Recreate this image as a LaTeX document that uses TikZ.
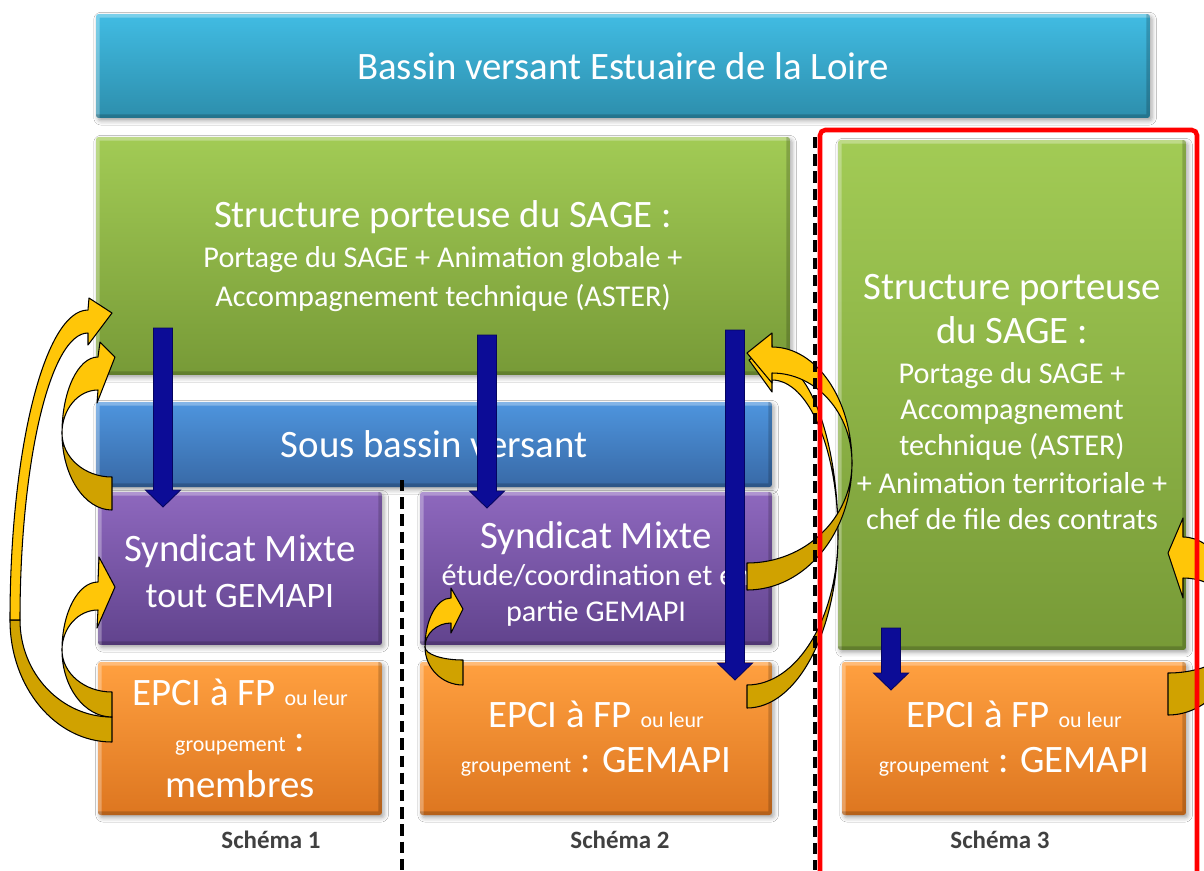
\documentclass[tikz,border=0pt]{standalone}
\usepackage{fontspec}
\setmainfont{Carlito}
\usetikzlibrary{calc,shadows.blur}

\definecolor{cyanT}{HTML}{41BCE3}
\definecolor{cyanB}{HTML}{2D8EAC}
\definecolor{greenT}{HTML}{A2CB55}
\definecolor{greenB}{HTML}{779A37}
\definecolor{blueT}{HTML}{4E95DE}
\definecolor{blueB}{HTML}{3869A6}
\definecolor{purpT}{HTML}{8E68BE}
\definecolor{purpB}{HTML}{61438D}
\definecolor{orT}{HTML}{FFA040}
\definecolor{orB}{HTML}{DD7620}
\definecolor{yfrontc}{HTML}{FFC608}
\definecolor{ybackc}{HTML}{D0A200}
\definecolor{navy}{HTML}{0C0C96}
\definecolor{navyD}{HTML}{050560}
\definecolor{schemagray}{HTML}{404040}

% change the size inside a paragraph while keeping its baseline distance
\newcommand\sz[1]{\fontsize{#1}{\the\baselineskip}\selectfont}
% invisible strut that lowers a block of text inside its box
\newcommand\lowerstrut[1]{\rule{0pt}{#1}}

% curved block arrows: back crescent (darker) and front band with head
% tail on the right, body bending to the left
\newcommand\crescentR[6]{\path[yback] (#1,#3) arc[start angle=90,end angle=180,x radius={#1-#4},y radius={#3-#5}] -- ({#4+#6},#5) arc[start angle=180,end angle=90,x radius={#1-#4-#6},y radius={#2-#5}] -- cycle;}
\newcommand\headR[7]{\path[yfront] (#1,#2) arc[start angle=180,end angle=270,x radius={#4-#1},y radius={#2-#5}] -- #7 -- (#4,#6) arc[start angle=270,end angle=180,x radius={#4-#1-#3},y radius={#2-#6}] -- cycle;}
% tail on the left, body bending to the right
\newcommand\crescentL[6]{\path[yback] (#1,#3) arc[start angle=90,end angle=0,x radius={#4-#1},y radius={#3-#5}] -- ({#4-#6},#5) arc[start angle=0,end angle=90,x radius={#4-#1-#6},y radius={#2-#5}] -- cycle;}
\newcommand\headL[7]{\path[yfront] (#1,#2) arc[start angle=360,end angle=270,x radius={#1-#4},y radius={#2-#5}] -- #7 -- (#4,#6) arc[start angle=270,end angle=360,x radius={#1-#4-#3},y radius={#2-#6}] -- cycle;}

% straight downward block arrow between two named coordinates
\newcommand\navyarrow[2]{\filldraw[navyblock] ($(#1)+(-9.5,0)$) -- ($(#2)+(-9.5,-17)$) -- ($(#2)+(-17.5,-17)$) -- (#2) -- ($(#2)+(17.5,-17)$) -- ($(#2)+(9.5,-17)$) -- ($(#1)+(9.5,0)$) -- cycle;}

\begin{document}
\begin{tikzpicture}[x=0.02cm, y=-0.02cm,
  box/.style={rectangle, rounded corners=1.5pt, inner sep=0pt, align=flush center, text=white,
    blur shadow={shadow xshift=1.2pt, shadow yshift=-1.5pt, shadow blur radius=2.5pt, shadow opacity=35},
    path picture={
      \draw[white, opacity=.3, line width=4pt] (path picture bounding box.south west) -- (path picture bounding box.north west) -- (path picture bounding box.north east);
      \draw[black, opacity=.18, line width=4pt] (path picture bounding box.north east) -- (path picture bounding box.south east) -- (path picture bounding box.south west);}},
  cyanbox/.style={box, top color=cyanT, bottom color=cyanB},
  greenbox/.style={box, top color=greenT, bottom color=greenB},
  bluebox/.style={box, top color=blueT, bottom color=blueB},
  purplebox/.style={box, top color=purpT, bottom color=purpB},
  orangebox/.style={box, top color=orT, bottom color=orB},
  yfront/.style={fill=yfrontc, draw=black, line width=0.6pt, line join=round},
  yback/.style={fill=ybackc, draw=black, line width=0.6pt, line join=round},
  navyblock/.style={fill=navy, draw=navyD, line width=0.5pt, line join=miter},
  sepline/.style={black, line width=2pt, dash pattern=on 6.5pt off 3.3pt},
  frame/.style={red, line width=2.6pt, rounded corners=3pt},
  caption/.style={font=\bfseries\fontsize{14.2}{16}\selectfont, text=schemagray}
]
\useasboundingbox (0,0) rectangle (1204,870);
\fill[white] (0,0) rectangle (1204,870);
\clip (0,0) rectangle (1204,870);

% ---- boxes ----
\node[cyanbox, minimum width=21.08cm, minimum height=2.08cm, text width=20cm,
      font=\fontsize{22.1}{26}\selectfont] (bassin) at (623,66) {Bassin versant Estuaire de la Loire};

\node[greenbox, minimum width=13.88cm, minimum height=4.76cm, text width=13.4cm,
      font=\fontsize{17.2}{22}\selectfont] (sage) at (443,256)
  {{\sz{22.1}Structure porteuse du SAGE :}\\[1pt]
   Portage du SAGE + Animation globale +\\
   Accompagnement technique (ASTER)};

\node[bluebox, minimum width=13.52cm, minimum height=1.70cm, text width=13cm,
      font=\fontsize{22.1}{26}\selectfont] (sous) at (434,444.5) {Sous bassin versant};

\node[purplebox, minimum width=5.68cm, minimum height=3.06cm, text width=5.4cm,
      font=\fontsize{22.1}{26}\selectfont] (sm1) at (240,568.5)
  {\lowerstrut{18pt}Syndicat Mixte\\ {\sz{20.4}tout GEMAPI}};

\node[purplebox, minimum width=7.04cm, minimum height=3.06cm, text width=6.9cm,
      font=\fontsize{17.2}{20.5}\selectfont] (sm2) at (596,568.5)
  {\lowerstrut{21.5pt}{\sz{22.1}Syndicat Mixte}\\[0.5pt]
   étude/coordination et en\\
   partie GEMAPI};

\node[orangebox, minimum width=5.68cm, minimum height=3.06cm, text width=5.4cm,
      font=\fontsize{22.1}{26}\selectfont] (epci1) at (240,738.5)
  {EPCI à FP {\sz{12.5}ou leur}\\ {\sz{12.5}groupement} :\\ membres};

\node[orangebox, minimum width=7.04cm, minimum height=3.06cm, text width=6.8cm,
      font=\fontsize{22.1}{26}\selectfont] (epci2) at (596,738.5)
  {EPCI à FP {\sz{12.5}ou leur}\\ {\sz{12.5}groupement} : GEMAPI};

\node[greenbox, minimum width=6.96cm, minimum height=10.2cm, text width=6.8cm,
      font=\fontsize{17.2}{20.5}\selectfont] (sage3) at (1012,395)
  {\lowerstrut{22pt}{\sz{22.1}Structure porteuse}\\[5pt]
   {\sz{22.1}du SAGE :}\\[2pt]
   Portage du SAGE +\\
   Accompagnement\\
   technique (ASTER)\\[1pt]
   + Animation territoriale +\\
   chef de file des contrats};

\node[orangebox, minimum width=6.88cm, minimum height=3.06cm, text width=6.7cm,
      font=\fontsize{22.1}{26}\selectfont] (epci3) at (1014,738.5)
  {EPCI à FP {\sz{12.5}ou leur}\\ {\sz{12.5}groupement} : GEMAPI};

% ---- downward arrows ----
\coordinate (d1s) at (163,328); \coordinate (d1e) at (163,507);
\coordinate (d2s) at (487,335); \coordinate (d2e) at (487,508);
\coordinate (d3s) at (735,330); \coordinate (d3e) at (735,680);
\coordinate (d4s) at (891,628); \coordinate (d4e) at (891,690);
\navyarrow{d1s}{d1e}
\navyarrow{d2s}{d2e}
\navyarrow{d3s}{d3e}
\navyarrow{d4s}{d4e}

% ---- curved return arrows, schema 1 ----
\crescentR{112}{717}{742}{10}{620}{10}
\headR{10}{620}{10}{88}{310}{333}{(89,298) -- (112,313) -- (88,345)}
\crescentR{112}{477}{510}{62}{433}{0}
\headR{62}{433}{0}{98}{357}{390}{(100,342) -- (115,357) -- (97,403)}
\crescentR{112}{692}{717}{62}{650}{0}
\headR{62}{650}{0}{98}{582}{610}{(99,557) -- (115,587) -- (97,628)}

% ---- schema 2 ----
\crescentR{463}{660}{685}{425}{647}{0}
\headR{425}{647}{0}{451}{598}{623}{(451,588) -- (463,609) -- (451,633)}
\crescentL{747}{685}{708}{838}{535}{0}
\headL{838}{535}{0}{772}{360}{380}{(772,345) -- (749,360) -- (772,392)}
\crescentL{747}{563}{590}{852}{463}{0}
\headL{852}{463}{0}{772}{347}{373}{(772,333) -- (747,353) -- (772,383)}

% ---- schema 3 ----
\crescentL{1168}{673}{715}{1240}{630}{0}
\headL{1240}{630}{0}{1183}{537}{578}{(1183,518) -- (1168,553) -- (1183,598)}

% ---- separators and frame ----
\coordinate (sepAt) at (402,480); \coordinate (sepAb) at (402,870);
\coordinate (sepBt) at (815,137); \coordinate (sepBb) at (815,870);
\draw[sepline] (sepAt) -- (sepAb);
\draw[sepline] (sepBt) -- (sepBb);
\coordinate (frameNW) at (820,130); \coordinate (frameSE) at (1197,885);
\draw[frame] (frameNW) rectangle (frameSE);

% ---- captions ----
\node[caption] (cap1) at (271,840) {Schéma 1};
\node[caption] (cap2) at (620,840) {Schéma 2};
\node[caption] (cap3) at (1000,840) {Schéma 3};
\end{tikzpicture}
\end{document}
